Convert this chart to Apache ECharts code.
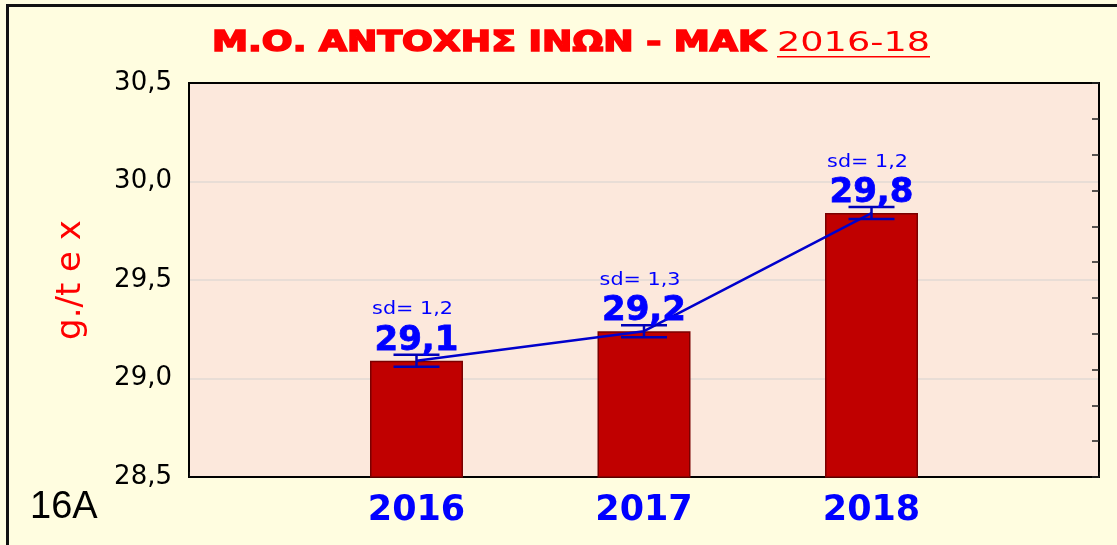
<!DOCTYPE html>
<html>
<head>
<meta charset="utf-8">
<script src="https://cdn.jsdelivr.net/npm/echarts@6/dist/echarts.min.js"></script>
<style>
  html, body { margin: 0; padding: 0; background: #fffde0; }
  #chart { width: 1117px; height: 545px; }
</style>
</head>
<body>
<div id="chart"></div>
<script>
// Mean fibre strength per year, with standard deviation and error half-range
const years = [2016, 2017, 2018];
const means = [29.09, 29.24, 29.84];
const sds = [1.2, 1.3, 1.2];
const errs = [0.03, 0.03, 0.03];

// Axis settings
const yMin = 28.5, yMax = 30.5, yStep = 0.5;
const xMin = 2015, xMax = 2019;

const titleMain = 'Μ.Ο. ΑΝΤΟΧΗΣ ΙΝΩΝ - ΜΑΚ';
const titlePeriod = '2016-18';
const yName = 'g./t e x';
const cornerTag = '16A';

const comma = v => v.toFixed(1).replace('.', ',');

// widen text horizontally to a target width
const mctx = document.createElement('canvas').getContext('2d');
function textWidth(t, f) { mctx.font = f; return mctx.measureText(t).width; }
const fontMain = 'bold 28px "DejaVu Sans"';
const fontSub = '27px "DejaVu Sans"';
const sMain = 554 / textWidth(titleMain, fontMain);
const sSub = 153 / textWidth(titlePeriod, fontSub);

const barData = years.map((y, i) => [y, means[i]]);
const errData = years.map((y, i) => [y, means[i], errs[i], sds[i]]);

const chart = echarts.init(document.getElementById('chart'));
chart.setOption({
  backgroundColor: '#fffde0',
  animation: false,
  grid: {
    left: 189, right: 18, top: 83, bottom: 68,
    show: true, backgroundColor: '#fce8dc',
    borderColor: '#000', borderWidth: 2
  },
  xAxis: {
    type: 'value', min: xMin, max: xMax, interval: 1,
    axisLine: { show: true, lineStyle: { color: '#000', width: 2 } },
    axisTick: { show: true, inside: true, length: 5, lineStyle: { color: '#111' } },
    splitLine: { show: false },
    axisLabel: {
      margin: 16,
      color: '#0000ff', fontFamily: 'DejaVu Sans', fontWeight: 'bold', fontSize: 35,
      formatter: v => (years.indexOf(v) >= 0 ? String(v) : '')
    }
  },
  yAxis: [{
    type: 'value', min: yMin, max: yMax, interval: yStep,
    name: yName, nameLocation: 'middle', nameGap: 101, nameRotate: 90,
    nameTextStyle: { color: '#ff0000', fontFamily: 'DejaVu Sans', fontSize: 34 },
    axisLine: { show: true, lineStyle: { color: '#000', width: 2 } },
    axisTick: { show: false },
    splitLine: {
      show: true,
      lineStyle: { color: ['#000', '#e2dad4', '#e2dad4', '#e2dad4', '#000'], width: 1.5 }
    },
    axisLabel: {
      margin: 17, color: '#000', fontFamily: 'DejaVu Sans', fontSize: 26,
      formatter: v => comma(v)
    }
  }, {
    type: 'value', min: 0, max: 11, interval: 1, position: 'right',
    axisLine: { show: true, lineStyle: { color: '#000', width: 2 } },
    axisTick: { show: true, inside: true, length: 7, lineStyle: { color: '#222', width: 1.5 } },
    axisLabel: { show: false },
    splitLine: { show: false }
  }],
  series: [{
    type: 'bar',
    data: barData,
    barWidth: 93,
    itemStyle: { color: '#c00000', borderColor: '#7a0000', borderWidth: 1.5 },
    z: 2
  }, {
    type: 'line',
    data: barData,
    showSymbol: false,
    symbol: 'none',
    lineStyle: { color: '#0000cc', width: 2.5 },
    z: 3
  }, {
    type: 'custom',
    data: errData,
    z: 4,
    renderItem: (params, api) => {
      const x = api.value(0), m = api.value(1), e = api.value(2), sd = api.value(3);
      const c = api.coord([x, m]);
      const hi = api.coord([x, m + e]);
      const lo = api.coord([x, m - e]);
      const hw = 23;
      const stroke = { stroke: '#0000b8', lineWidth: 2.5 };
      return {
        type: 'group',
        children: [
          { type: 'line', shape: { x1: c[0], y1: hi[1], x2: c[0], y2: lo[1] }, style: stroke },
          { type: 'line', shape: { x1: c[0] - hw, y1: hi[1], x2: c[0] + hw, y2: hi[1] }, style: stroke },
          { type: 'line', shape: { x1: c[0] - hw, y1: lo[1], x2: c[0] + hw, y2: lo[1] }, style: stroke },
          {
            type: 'text', x: c[0], y: c[1] - 20,
            style: {
              text: comma(m), font: 'bold 34px "DejaVu Sans"', fill: '#0000ff',
              stroke: '#0000ff', lineWidth: 0.8,
              align: 'center', verticalAlign: 'middle'
            }
          },
          {
            type: 'text', x: c[0] - 4, y: c[1] - 51, scaleX: 1.15,
            style: {
              text: 'sd= ' + comma(sd), font: '18px "DejaVu Sans"', fill: '#0000ff',
              align: 'center', verticalAlign: 'middle'
            }
          }
        ]
      };
    }
  }],
  graphic: [
    { type: 'rect', shape: { x: 6, y: 4, width: 1111, height: 3 }, style: { fill: '#111' } },
    { type: 'rect', shape: { x: 6, y: 4, width: 3, height: 541 }, style: { fill: '#111' } },
    {
      type: 'text', x: 212, y: 44, scaleX: sMain,
      style: {
        text: titleMain, font: fontMain, fill: '#ff0000', stroke: '#ff0000', lineWidth: 1.6,
        align: 'left', verticalAlign: 'middle'
      }
    },
    {
      type: 'text', x: 777, y: 44, scaleX: sSub,
      style: { text: titlePeriod, font: fontSub, fill: '#ff0000', align: 'left', verticalAlign: 'middle' }
    },
    { type: 'rect', shape: { x: 777, y: 56, width: 153, height: 1.5 }, style: { fill: '#ff0000' } },
    {
      type: 'text', x: 30, y: 508,
      style: { text: cornerTag, font: '38px "Liberation Sans"', fill: '#000', align: 'left', verticalAlign: 'middle' }
    }
  ]
});
</script>
</body>
</html>
